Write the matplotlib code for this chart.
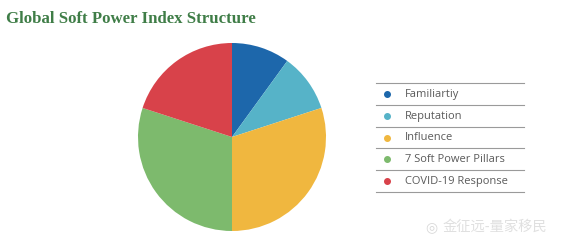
import matplotlib.pyplot as plt
from matplotlib.lines import Line2D

labels = ['Familiartiy', 'Reputation', 'Influence', '7 Soft Power Pillars', 'COVID-19 Response']
shares = [10, 10, 30, 30, 20]
colors = ['#1d67ab', '#56b3c8', '#f0b73f', '#7dba6d', '#d8424a']
title = 'Global Soft Power Index Structure'
watermark = '金征远-量家移民'

fig = plt.figure(figsize=(5.85, 2.42), dpi=100)
fig.patch.set_facecolor('white')

# 标题
fig.text(6 / 585, 1 - 19 / 242, title, family='Liberation Serif', weight='bold',
         fontsize=12.1, color='#3f7d47', va='center', ha='left')

# 饼图
ax = fig.add_axes([138 / 585, 11 / 242, 188 / 585, 188 / 242])
ax.pie(shares, colors=colors, startangle=90, counterclock=False,
       wedgeprops={'linewidth': 0})
ax.set_xlim(-1, 1)
ax.set_ylim(-1, 1)
ax.set_aspect('equal')
ax.axis('off')

# 图例（手动画表格式）
lg = fig.add_axes([376 / 585, 1 - 192 / 242, 148 / 585, 109 / 242])
lg.set_xlim(0, 148)
lg.set_ylim(len(labels), 0)
lg.axis('off')
for i in range(len(labels) + 1):
    lg.add_line(Line2D([0, 148], [i, i], color='#9a9a9a', lw=0.8, clip_on=False))
for i, (lab, c) in enumerate(zip(labels, colors)):
    lg.scatter([11], [i + 0.5], s=16, color=c, zorder=3)
    lg.text(29, i + 0.52, lab, family='Open Sans', fontsize=8, color='#5a5a5a',
            va='center', ha='left')

# 水印
fig.text(425 / 585, 1 - 227 / 242, '◎', family='DejaVu Sans',
         fontsize=10, color='#d8d8d8', va='center', ha='left')
fig.text(443 / 585, 1 - 227 / 242, watermark, family=['Noto Sans CJK SC', 'DejaVu Sans'],
         fontsize=10.3, color='#e0e0e0', va='center', ha='left')

plt.savefig('out.png', dpi=100)
plt.close()
